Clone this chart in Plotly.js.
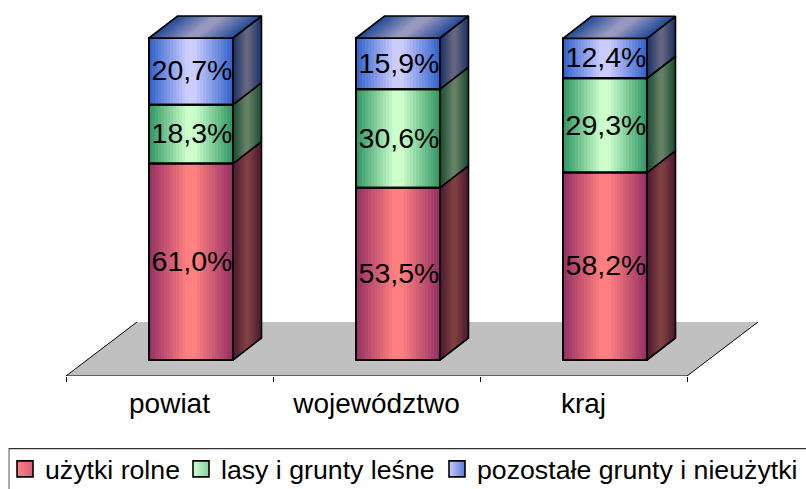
<!DOCTYPE html>
<html><head><meta charset="utf-8">
<script src="https://cdn.plot.ly/plotly-3.0.1.min.js"></script>
<style>html,body{margin:0;padding:0;background:#fff;overflow:hidden}</style>
</head><body><div id="chart" style="width:806px;height:489px"></div>
<script>
const categories = ['powiat', 'województwo', 'kraj'];
const seriesNames = ['użytki rolne', 'lasy i grunty leśne', 'pozostałe grunty i nieużytki'];
const uzytkiRolne = [61.0, 53.5, 58.2];
const lasy = [18.3, 30.6, 29.3];
const pozostale = [20.7, 15.9, 12.4];
const centerColors = [[255,128,128],[204,255,204],[204,204,255]];
const edgeColors = [[153,51,102],[51,153,102],[51,102,204]];
const keyEdgeColors = ['#d8607a','#88d0a0','#5a7ad8'];

const values = [uzytkiRolne, lasy, pozostale];
const W = 806, H = 489, mL = 66, mR = 47, mT = 0, mB = 113;
const pxPerCat = 207, pxPerPct = 3.22;
const xr = [-0.5, -0.5 + (W - mL - mR) / pxPerCat];
const floorPct = 16 / pxPerPct;
const yr = [-floorPct, (H - mB) / pxPerPct - floorPct];
const barW = 84 / pxPerCat, barShift = 21.5 / pxPerCat;
const dX = 28.5 / pxPerCat, dY = 22 / pxPerPct;
const fX = 71 / pxPerCat, fY = 54 / pxPerPct;
const labelDrop = 2 / pxPerPct, labelShift = 1 / pxPerCat;
const N = 14;
const barX = categories.map((_, i) => i + barShift);
const lerp = (a, b, t) => a.map((v, i) => v + (b[i] - v) * t);
const rgb = (c, f) => 'rgb(' + c.map(v => Math.round(v * f)).join(',') + ')';
const ramp = k => Math.min(1, (k / N) * 1.15);
const fmt = v => v.toFixed(1).replace('.', ',') + '%';
const bases = values.map((s, si) => s.map((_, i) => values.slice(0, si).reduce((a, r) => a + r[i], 0)));

const traces = [];
values.forEach((s, si) => {
  for (let k = 0; k < N; k++) {
    traces.push({type:'bar', x:barX, y:s, base:bases[si], width:barW * (1 - k / N),
      marker:{color:rgb(lerp(edgeColors[si], centerColors[si], ramp(k)), 1), line:{width:0}},
      showlegend:false, hoverinfo:'skip'});
  }
});
values.forEach((s, si) => traces.push({type:'bar', x:barX, y:s, base:bases[si], width:barW,
  marker:{color:'rgba(0,0,0,0)', line:{color:'#000', width:2}}, showlegend:false, hoverinfo:'skip'}));

function poly(xs, ys, color, outline) {
  return {type:'scatter', x:xs, y:ys, mode:'lines', fill:outline ? 'none' : 'toself',
    fillcolor:color, line:outline ? {color:outline, width:1.6} : {width:0, color:color},
    showlegend:false, hoverinfo:'skip'};
}
function sidePaths(si, s0, s1) {
  const xs = [], ys = [];
  barX.forEach((x, i) => {
    const r = x + barW / 2, lo = bases[si][i], hi = lo + values[si][i];
    xs.push(r + dX * s0, r + dX * s1, r + dX * s1, r + dX * s0, r + dX * s0, null);
    ys.push(lo + dY * s0, lo + dY * s1, hi + dY * s1, hi + dY * s0, lo + dY * s0, null);
  });
  return [xs, ys];
}
function topPaths(t0) {
  const xs = [], ys = [];
  barX.forEach((x, i) => {
    const hw = barW / 2 * (1 - t0), hi = bases[2][i] + values[2][i];
    xs.push(x - hw, x + hw, x + hw + dX, x - hw + dX, x - hw, null);
    ys.push(hi, hi, hi + dY, hi + dY, hi, null);
  });
  return [xs, ys];
}
values.forEach((s, si) => {
  for (let k = 0; k < N; k++) {
    const [xs, ys] = sidePaths(si, k / N / 2, 1 - k / N / 2);
    traces.push(poly(xs, ys, rgb(lerp(edgeColors[si], centerColors[si], ramp(k)), 0.5)));
  }
  const [xs, ys] = sidePaths(si, 0, 1);
  traces.push(poly(xs, ys, null, '#000'));
});
for (let k = 0; k < N; k++) {
  const [xs, ys] = topPaths(k / N);
  traces.push(poly(xs, ys, rgb(lerp(edgeColors[2], centerColors[2], ramp(k)), 0.75)));
}
{ const [xs, ys] = topPaths(0); traces.push(poly(xs, ys, null, '#000')); }

values.forEach((s, si) => traces.push({type:'scatter', mode:'text', x:barX.map(x => x + labelShift),
  y:s.map((v, i) => bases[si][i] + v / 2 - labelDrop), text:s.map(fmt), textposition:'middle center',
  textfont:{family:'"Liberation Sans", Arial, sans-serif', size:28.5, color:'#000'},
  showlegend:false, hoverinfo:'skip', cliponaxis:false}));

seriesNames.forEach((n, si) => traces.push({type:'scatter', mode:'markers', x:[null], y:[null], name:n,
  legend: si ? 'legend' + (si + 1) : 'legend',
  marker:{symbol:'square', size:16, color:rgb(centerColors[si], 1),
    gradient:{type:'horizontal', color:keyEdgeColors[si]}, line:{color:'#000', width:1.6}}}));

const legendX = [5, 181, 437];
const mkLegend = px => ({xref:'container', yref:'container', x:px / W, y:1 - 445 / H, xanchor:'left', yanchor:'top',
  bgcolor:'rgba(0,0,0,0)', borderwidth:0, itemsizing:'trace', itemclick:false, itemdoubleclick:false,
  font:{family:'"Liberation Sans", Arial, sans-serif', size:26.7, color:'#000'}});

const fx0 = xr[0], fx1 = categories.length - 0.5, fy0 = yr[0];
const px = v => (v - mL) / (W - mL - mR), py = v => 1 - (v - mT) / (H - mT - mB);
const layout = {
  width:W, height:H, margin:{l:mL, r:mR, t:mT, b:mB, pad:0, autoexpand:false},
  paper_bgcolor:'#fff', plot_bgcolor:'rgba(0,0,0,0)', barmode:'overlay', showlegend:true,
  legend:mkLegend(legendX[0]), legend2:mkLegend(legendX[1]), legend3:mkLegend(legendX[2]),
  xaxis:{type:'linear', range:xr, fixedrange:true, showgrid:false, zeroline:false, showline:false,
    tickmode:'array', tickvals:categories.map((_, i) => i), ticktext:categories, ticks:'', ticklabelstandoff:8,
    tickfont:{family:'"Liberation Sans", Arial, sans-serif', size:28, color:'#000'},
    minor:{tickmode:'array', tickvals:[-0.5, 0.5, 1.5, 2.5], ticks:'outside', ticklen:5, tickwidth:1, tickcolor:'#000', showgrid:false}},
  yaxis:{type:'linear', range:yr, fixedrange:true, visible:false},
  shapes:[
    {type:'path', layer:'below', xref:'x', yref:'y', fillcolor:'#c0c0c0', line:{width:0},
     path:`M${fx0},${fy0}L${fx1},${fy0}L${fx1 + fX},${fy0 + fY}L${fx0 + fX},${fy0 + fY}Z`},
    {type:'path', layer:'below', xref:'x', yref:'y', line:{color:'#000', width:1},
     path:`M${fx0 + fX},${fy0 + fY}L${fx0},${fy0}L${fx1},${fy0}L${fx1 + fX},${fy0 + fY}`},
    {type:'line', xref:'paper', yref:'paper', x0:px(9), x1:px(806), y0:py(448.5), y1:py(448.5), line:{color:'#333', width:1}},
    {type:'line', xref:'paper', yref:'paper', x0:px(9), x1:px(806), y0:py(449.5), y1:py(449.5), line:{color:'#ccc', width:1}},
    {type:'line', xref:'paper', yref:'paper', x0:px(9), x1:px(9), y0:py(448), y1:py(489), line:{color:'#555', width:1}}
  ]
};
Plotly.newPlot('chart', traces, layout, {displayModeBar:false, staticPlot:true});
</script></body></html>
